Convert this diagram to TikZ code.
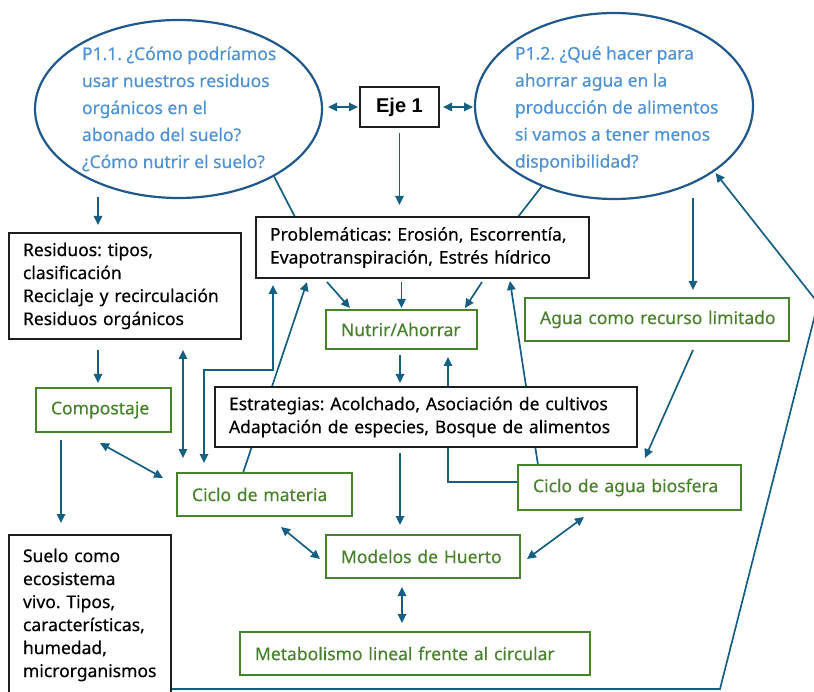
\documentclass[tikz,border=0pt]{standalone}
\usepackage{fontspec}
\setmainfont{Noto Sans}[FakeBold=0.35]
\newfontfamily\ejefont{Liberation Sans}
\frenchspacing
\usetikzlibrary{arrows.meta,shapes.geometric,backgrounds,calc}
\definecolor{arrc}{RGB}{21,96,130}
\definecolor{ellc}{RGB}{31,88,140}
\definecolor{qtxt}{RGB}{78,146,212}
\definecolor{grn}{RGB}{72,130,44}
\definecolor{boxk}{RGB}{30,30,30}
\begin{document}
\frenchspacing
\begin{tikzpicture}[x=1pt,y=-1pt,
  every node/.style={inner sep=0pt, outer sep=0pt},
  box/.style={draw=boxk, line width=1.4pt, fill=white, align=left, inner xsep=14pt, inner ysep=0pt,
              font=\fontsize{17.5}{23}\selectfont, text=black},
  gbox/.style={box, draw=grn, line width=1.9pt, inner xsep=15pt, text=grn},
  qell/.style={ellipse, draw=ellc, line width=2.2pt, fill=white},
  qtext/.style={align=left, text=qtxt, font=\fontsize{17.5}{27}\selectfont, anchor=west},
  tip/.tip={Triangle[length=9pt,width=8.5pt]},
  arr/.style={draw=arrc, line width=1.7pt, -tip},
  dbl/.style={draw=arrc, line width=1.7pt, tip-tip},
  ln/.style={draw=arrc, line width=1.7pt}
]
\useasboundingbox (0,0) rectangle (814,692);

% ellipses and questions
\node[qell, minimum width=287pt, minimum height=178pt] (lell) at (178.5,109) {};
\node[qtext] (ltxt) at (82,109) {P1.1. ¿Cómo podríamos\\usar nuestros residuos\\orgánicos en el\\abonado del suelo?\\¿Cómo nutrir el suelo?};
\node[qell, minimum width=278pt, minimum height=186pt] (rell) at (614,106) {};
\node[qtext] (rtxt) at (515,109) {P1.2. ¿Qué hacer para\\ahorrar agua en la\\producción de alimentos\\si vamos a tener menos\\disponibilidad?};

% Eje
\node[draw=boxk, line width=1.6pt, fill=white, minimum width=79pt, minimum height=40pt,
      font=\ejefont\bfseries\fontsize{20}{24}\selectfont] (eje) at (399.5,107) {Eje 1};

% black boxes
\node[box, text width=204pt, minimum height=106pt] (resid) at (125,286)
  {\mbox{Residuos: tipos,}\\\mbox{clasificación}\\\mbox{Reciclaje y recirculación}\\\mbox{Residuos orgánicos}};
\node[box, text width=305pt, minimum height=61pt] (prob) at (422.5,247.5)
  {\mbox{Problemáticas: Erosión, Escorrentía,}\\\mbox{Evapotranspiración, Estrés hídrico}};
\node[box, text width=394pt, minimum height=60pt] (estrat) at (426,417)
  {\mbox{Estrategias: Acolchado, Asociación de cultivos}\\\mbox{Adaptación de especies, Bosque de alimentos}};
\node[box, text width=134pt, minimum height=160pt] (suelo) at (90,615)
  {\mbox{Suelo como}\\\mbox{ecosistema}\\\mbox{vivo. Tipos,}\\\mbox{características,}\\\mbox{humedad,}\\\mbox{microrganismos}};

% green boxes
\node[gbox, text width=121pt, minimum height=39pt] (nutrir) at (401.5,329.5) {\mbox{Nutrir/Ahorrar}};
\node[gbox, text width=234pt, minimum height=43pt] (agua) at (657,319.5) {\mbox{Agua como recurso limitado}};
\node[gbox, text width=105pt, minimum height=44pt] (compost) at (103.5,410) {\mbox{Compostaje}};
\node[gbox, text width=145pt, minimum height=43pt] (cmat) at (264.5,494.5) {\mbox{Ciclo de materia}};
\node[gbox, text width=193pt, minimum height=45pt] (cagua) at (629.5,487.5) {\mbox{Ciclo de agua biosfera}};
\node[gbox, text width=164pt, minimum height=43pt] (modelos) at (423,556.5) {\mbox{Modelos de Huerto}};
\node[gbox, text width=320pt, minimum height=43pt] (metab) at (415,653.5) {\mbox{Metabolismo lineal frente al circular}};

\coordinate (bend1) at (720,689);
\coordinate (bend2) at (818,303);

\begin{pgfonlayer}{background}
% top
\draw[dbl, shorten <=6pt, shorten >=2pt] (lell.east |- eje.west) -- (eje.west);
\draw[dbl, shorten <=4pt, shorten >=2pt] (eje.east) -- (rell.west |- eje.east);
\draw[arr] ([yshift=-6pt]eje.south) -- ([xshift=-23pt,yshift=12pt]prob.north);
\draw[arr] ([xshift=-27pt,yshift=36pt]resid.north) -- ([xshift=-27pt,yshift=8pt]resid.north);
\draw[ln] (lell.-35) -- ([xshift=39pt]prob.north west);
\draw[ln] (rell.228) -- ([xshift=-71pt]prob.north east);
\draw[arr] ([xshift=36pt,yshift=100pt]agua.north) -- ([xshift=36pt,yshift=8pt]agua.north);
% problematicas -> nutrir
\draw[arr] ([xshift=71pt,yshift=-4pt]prob.south west) -- ([xshift=24pt,yshift=2pt]nutrir.north west);
\draw[arr] ([xshift=-21pt,yshift=-4pt]prob.south) -- ([yshift=2pt]nutrir.north);
\draw[arr] ([xshift=-107pt,yshift=-4pt]prob.south east) -- ([xshift=-12pt,yshift=2pt]nutrir.north east);
% ciclo agua -> problematicas, agua -> ciclo agua
\draw[arr] ([xshift=20pt]cagua.north west) -- ([xshift=-79pt,yshift=-3pt]prob.south east);
\draw[arr] ([xshift=36pt,yshift=-9pt]agua.south) -- ([xshift=15.5pt,yshift=7pt]cagua.north);
% nutrir <-> estrategias
\draw[arr] ([xshift=-1.5pt,yshift=-6pt]nutrir.south) -- ([xshift=-26pt,yshift=4pt]estrat.north);
\draw[arr] ([yshift=5.5pt]cagua.west) -| ([xshift=46.5pt,yshift=-8pt]nutrir.south);
% ciclo materia <-> problematicas
\draw[dbl] ([xshift=27pt,yshift=10pt]cmat.north west) -- ++(0,-93) -| ([xshift=17pt,yshift=-7pt]prob.south west);
\draw[arr] ([xshift=66pt]cmat.north west) -- ([xshift=51pt,yshift=-4pt]prob.south west);
% left column
\draw[dbl] ([xshift=58pt,yshift=-11pt]resid.south) -- ([xshift=6pt,yshift=15pt]cmat.north west);
\draw[dbl] ([xshift=-3.5pt,yshift=-11pt]compost.south) -- ([xshift=-14pt,yshift=16.5pt]cmat.west);
\draw[arr] ([xshift=25pt,yshift=-8pt]compost.south west) -- ([xshift=52pt,yshift=12pt]suelo.north west);
\draw[arr] ([xshift=-27pt,yshift=-11pt]resid.south) -- ([xshift=-5.5pt,yshift=5pt]compost.north);
% modelos
\draw[arr] ([xshift=-26pt,yshift=-6pt]estrat.south) -- ([xshift=-23pt,yshift=10pt]modelos.north);
\draw[dbl] ([xshift=16.5pt,yshift=-11pt]cmat.south) -- ([xshift=-6pt,yshift=-2.5pt]modelos.west);
\draw[dbl] ([xshift=7pt,yshift=-2.5pt]modelos.east) -- ([xshift=-45.5pt,yshift=-7pt]cagua.south);
\draw[dbl] ([xshift=-21pt,yshift=-9pt]modelos.south) -- ([xshift=-13pt,yshift=9pt]metab.north);
% return line
\draw[arr, shorten >=3pt] ([yshift=6pt]suelo.south east) -- (bend1) -- (bend2) -- (rell.-33);
\end{pgfonlayer}
\end{tikzpicture}
\end{document}
